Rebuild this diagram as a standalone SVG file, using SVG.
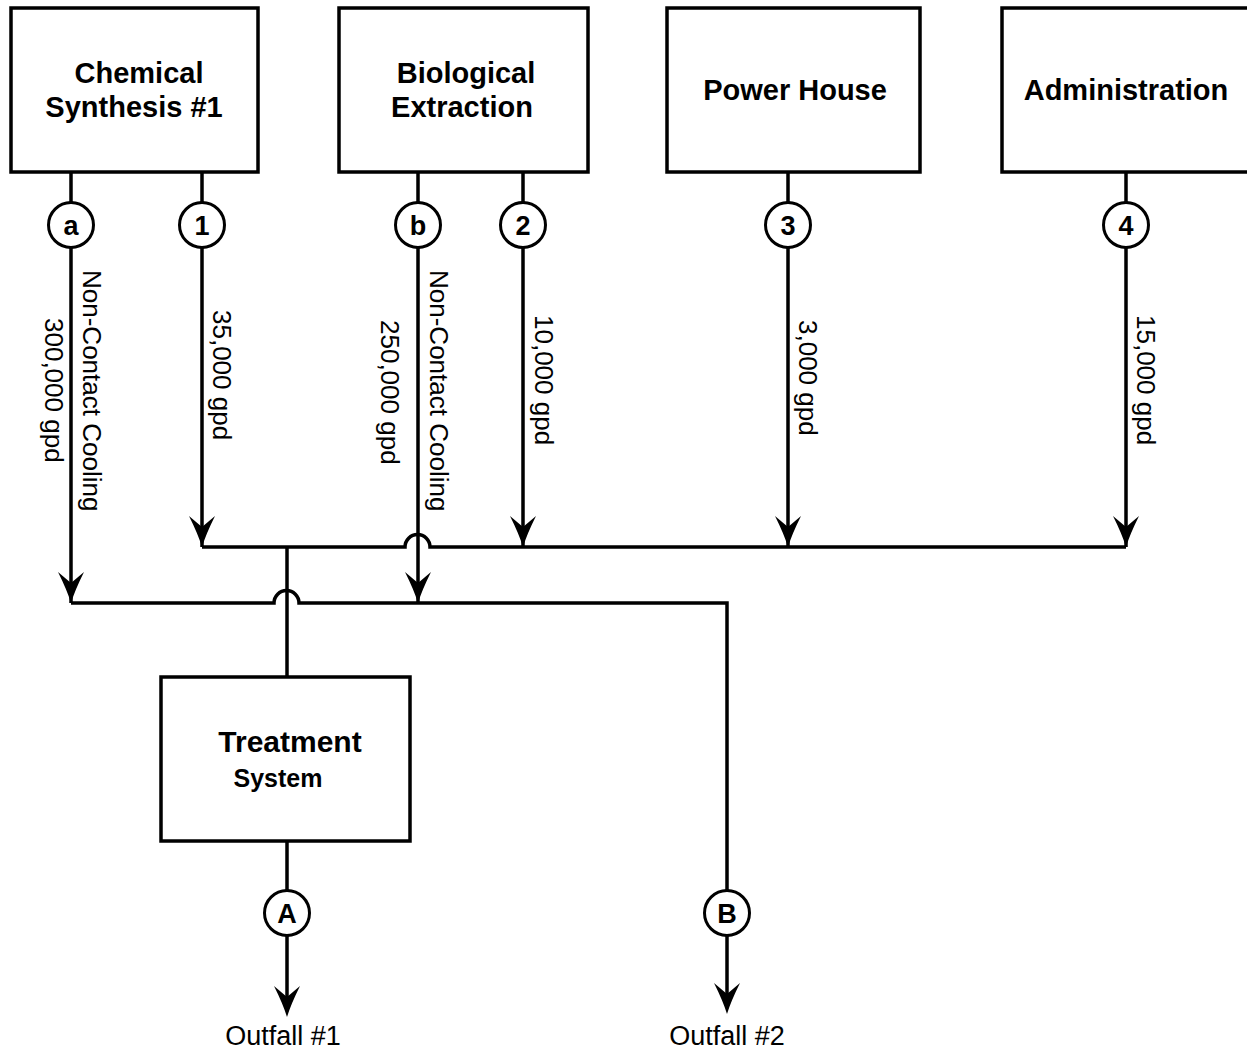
<svg xmlns="http://www.w3.org/2000/svg" width="1247" height="1055" viewBox="0 0 1247 1055">
<style>
.box{fill:#fff;stroke:#000;stroke-width:3.5}
.ln{fill:none;stroke:#000;stroke-width:3.5}
.cir{fill:#fff;stroke:#000;stroke-width:3}
.t{font-family:"Liberation Sans",Arial,sans-serif;font-weight:bold;font-size:29px;text-anchor:middle;fill:#000}
.cl{font-family:"Liberation Sans",Arial,sans-serif;font-weight:bold;font-size:27px;text-anchor:middle;fill:#000}
.v{font-family:"Liberation Sans",Arial,sans-serif;font-size:26px;fill:#000}
.o{font-family:"Liberation Sans",Arial,sans-serif;font-size:27px;text-anchor:middle;fill:#000}
</style>
<defs>
<path id="ah" d="M0,0 Q-4,-13 -13,-31 L0,-20 L13,-31 Q4,-13 0,0 Z" fill="#000"/>
</defs>
<rect width="1247" height="1055" fill="#fff"/>

<g id="connectors">
<path class="ln" d="M71,172 V204 M202,172 V204 M418,172 V204 M523,172 V204 M788,172 V204 M1126,172 V204"/>
<path class="ln" d="M71,246 V603 M202,246 V547 M418,246 V603 M523,246 V547 M788,246 V547 M1126,246 V547"/>
<path class="ln" d="M202,547 H405 A12.5,12.5 0 0 1 430,547 H1126"/>
<path class="ln" d="M71,603 H274 A12.5,12.5 0 0 1 299,603 H727 V890"/>
<path class="ln" d="M287,547 V677"/>
<path class="ln" d="M287,841 V890 M287,936 V998"/>
<path class="ln" d="M727,936 V995"/>
<use href="#ah" x="71" y="603"/>
<use href="#ah" x="202" y="547"/>
<use href="#ah" x="418" y="603"/>
<use href="#ah" x="523" y="547"/>
<use href="#ah" x="788" y="547"/>
<use href="#ah" x="1126" y="547"/>
<use href="#ah" x="287" y="1017"/>
<use href="#ah" x="727" y="1014"/>
<text class="v" transform="translate(83,270) rotate(90)">Non-Contact Cooling</text>
<text class="v" transform="translate(45,318) rotate(90)">300,000 gpd</text>
<text class="v" transform="translate(213,310) rotate(90)">35,000 gpd</text>
<text class="v" transform="translate(381,320) rotate(90)">250,000 gpd</text>
<text class="v" transform="translate(430,270) rotate(90)">Non-Contact Cooling</text>
<text class="v" transform="translate(535,315) rotate(90)">10,000 gpd</text>
<text class="v" transform="translate(799,320) rotate(90)">3,000 gpd</text>
<text class="v" transform="translate(1137,315) rotate(90)">15,000 gpd</text>
</g>

<g id="chem">
<rect class="box" x="11" y="8" width="247" height="164"/>
<text class="t" x="139" y="83">Chemical</text>
<text class="t" x="134" y="117">Synthesis #1</text>
</g>
<g id="bio">
<rect class="box" x="339" y="8" width="249" height="164"/>
<text class="t" x="466" y="83">Biological</text>
<text class="t" x="462" y="117">Extraction</text>
</g>
<g id="power">
<rect class="box" x="667" y="8" width="253" height="164"/>
<text class="t" x="795" y="100">Power House</text>
</g>
<g id="admin">
<rect class="box" x="1002" y="8" width="270" height="164"/>
<text class="t" x="1126" y="100">Administration</text>
</g>
<g id="treatment">
<rect class="box" x="161" y="677" width="249" height="164"/>
<text class="t" x="290" y="752" style="font-size:30px">Treatment</text>
<text class="t" x="278" y="787" style="font-size:25px">System</text>
</g>

<g id="node-a"><circle class="cir" cx="71" cy="225" r="22.5"/><text class="cl" x="71" y="235">a</text></g>
<g id="node-1"><circle class="cir" cx="202" cy="225" r="22.5"/><text class="cl" x="202" y="235">1</text></g>
<g id="node-b"><circle class="cir" cx="418" cy="225" r="22.5"/><text class="cl" x="418" y="235">b</text></g>
<g id="node-2"><circle class="cir" cx="523" cy="225" r="22.5"/><text class="cl" x="523" y="235">2</text></g>
<g id="node-3"><circle class="cir" cx="788" cy="225" r="22.5"/><text class="cl" x="788" y="235">3</text></g>
<g id="node-4"><circle class="cir" cx="1126" cy="225" r="22.5"/><text class="cl" x="1126" y="235">4</text></g>
<g id="node-A"><circle class="cir" cx="287" cy="913" r="22.5"/><text class="cl" x="287" y="923">A</text></g>
<g id="node-B"><circle class="cir" cx="727" cy="913" r="22.5"/><text class="cl" x="727" y="923">B</text></g>

<g id="outfall1"><text class="o" x="283" y="1045">Outfall #1</text></g>
<g id="outfall2"><text class="o" x="727" y="1045">Outfall #2</text></g>
</svg>
